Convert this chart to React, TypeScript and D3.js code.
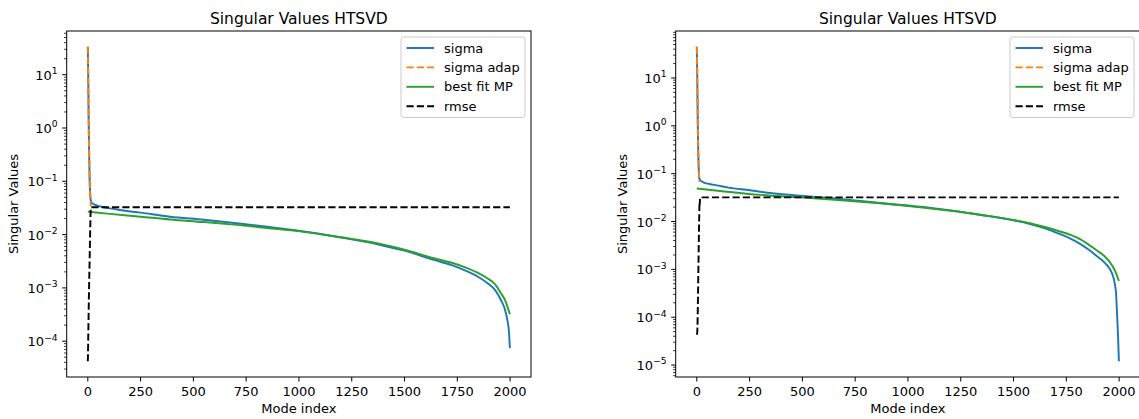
import React from 'react';
import * as d3 from 'd3';

// ---------- data ----------
const xTicks = [0, 250, 500, 750, 1000, 1250, 1500, 1750, 2000];
const leftYExp = [-4, -3, -2, -1, 0, 1];
const rightYExp = [-5, -4, -3, -2, -1, 0, 1];
const legendLabels = ['sigma', 'sigma adap', 'best fit MP', 'rmse'];
const titleText = 'Singular Values HTSVD';
const xLabelText = 'Mode index';
const yLabelText = 'Singular Values';

// left panel
const lSigmaIdx = [0,1,2,3,4,5,6,7,8,9,10,11,12,13,16,20,30,45,70,104,150,250,389,550,706,850,1006,1200,1386,1500,1639,1720,1797,1850,1892,1930,1956,1975,1987,1994,1999];
const lSigmaVal = [33.5,18,9,4,1.6,0.8,0.4,0.25,0.15,0.1,0.075,0.06,0.052,0.046,0.042,0.039,0.037,0.035,0.033,0.031,0.029,0.0258,0.0217,0.019,0.0163,0.014,0.0117,0.0088,0.0064,0.005,0.00335,0.0027,0.00204,0.0016,0.00123,0.0009,0.0006,0.0004,0.00025,0.00016,0.000074];
const lAdapIdx = [0,1,2,3,4,5,6,7,8,9,10,11,12,13,14];
const lAdapVal = [33.5,18,9,4,1.6,0.8,0.4,0.25,0.15,0.1,0.075,0.06,0.048,0.04,0.034];
const lFitIdx = [0,104,250,389,550,706,850,1006,1200,1386,1500,1639,1720,1797,1850,1892,1930,1956,1975,1987,1995,1999];
const lFitVal = [0.027,0.0245,0.0217,0.0192,0.0172,0.0152,0.0133,0.0115,0.0089,0.0067,0.0052,0.0036,0.003,0.00235,0.0019,0.00152,0.00115,0.0008,0.0006,0.00045,0.00036,0.00032];
const lRmseIdx = [0,1,2,3,4,5,6,7,8,9,10,11,12,13,14,15,1999];
const lRmseVal = [4.2e-5,6e-5,1.1e-4,2e-4,3.5e-4,6e-4,1e-3,1.6e-3,2.5e-3,4e-3,6.5e-3,1.05e-2,1.6e-2,2.4e-2,3.1e-2,3.26e-2,3.26e-2];

// right panel
const rSigmaIdx = [0,1,2,3,4,5,6,7,8,9,10,11,12,16,31,60,95,150,252,300,489,700,868,1100,1341,1578,1650,1705,1760,1815,1860,1894,1930,1957,1972,1981,1985,1990,1995,1999];
const rSigmaVal = [45,25,12,5,2,0.9,0.45,0.28,0.18,0.13,0.1,0.088,0.08,0.073,0.066,0.061,0.057,0.051,0.045,0.042,0.0346,0.029,0.0244,0.0195,0.0139,0.0089,0.0072,0.0058,0.0046,0.0034,0.0025,0.0019,0.0014,0.001,0.0007,0.00046,0.00034,0.000126,0.00004,0.000012];
const rAdapIdx = [0,1,2,3,4,5,6,7,8,9,10,11,12];
const rAdapVal = [45,25,12,5,2,0.9,0.45,0.28,0.18,0.13,0.1,0.085,0.068];
const rFitIdx = [0,100,300,489,700,868,1100,1341,1578,1705,1815,1894,1930,1957,1981,1999];
const rFitVal = [0.049,0.044,0.036,0.032,0.0275,0.024,0.019,0.0139,0.0092,0.0065,0.0043,0.0025,0.0019,0.0014,0.00093,0.00057];
const rRmseIdx = [1,3,4,5,6,7,8,9,10,11,12,13,14,15,16,1999];
const rRmseVal = [4.3e-5,6e-5,1e-4,1.8e-4,3.5e-4,7e-4,1.4e-3,2.8e-3,5.5e-3,1e-2,1.7e-2,2.5e-2,2.2e-2,2.9e-2,3.2e-2,3.2e-2];

// ---------- styling ----------
const W = 1139;
const H = 419;
const FONT = '"DejaVu Sans", sans-serif';
const FS = 13;
const TITLE_FS = 15.5;
const LW = 1.94;
const DASH = '7.2,3.1';
const COLORS = ['#1f77b4', '#ff7f0e', '#2ca02c', '#000000'];
const DASHES = [null, DASH, null, DASH];

type Series = { idx: number[]; val: number[] };

function supText(e: number) {
  return e < 0 ? '\u2212' + Math.abs(e) : String(e);
}

function Panel(props: {
  x0: number; x1: number; y0: number; y1: number;
  series: Series[]; yExp: number[];
}) {
  const { x0, x1, y0, y1, series, yExp } = props;
  const allIdx = series.flatMap((s) => s.idx);
  const allVal = series.flatMap((s) => s.val);
  const [xmin, xmax] = d3.extent(allIdx) as [number, number];
  const xm = (xmax - xmin) * 0.05;
  const x = d3.scaleLinear().domain([xmin - xm, xmax + xm]).range([x0, x1]);
  const lmin = Math.log10(d3.min(allVal)!);
  const lmax = Math.log10(d3.max(allVal)!);
  const lm = (lmax - lmin) * 0.05;
  const y = d3.scaleLog().domain([Math.pow(10, lmin - lm), Math.pow(10, lmax + lm)]).range([y1, y0]);

  const line = d3.line<[number, number]>()
    .x((d) => x(d[0]))
    .y((d) => y(d[1]))
    .curve(d3.curveMonotoneX);

  const minor: number[] = [];
  const [dlo, dhi] = y.domain();
  for (let k = Math.floor(Math.log10(dlo)); k <= Math.ceil(Math.log10(dhi)); k++) {
    for (let m = 2; m <= 9; m++) {
      const v = m * Math.pow(10, k);
      if (v >= dlo && v <= dhi) minor.push(v);
    }
  }

  const cx = (x0 + x1) / 2;
  const cy = (y0 + y1) / 2;
  const TL = 4.5;
  const PAD = 4.5;

  // legend
  const legW = 124;
  const legRight = x1 - 6;
  const legLeft = legRight - legW;
  const legTop = 37;
  const rowH = 19.4;

  return (
    <g>
      {series.map((s, i) => (
        <path
          key={i}
          d={line(s.idx.map((v, j) => [v, s.val[j]] as [number, number])) || ''}
          fill="none"
          stroke={COLORS[i]}
          strokeWidth={LW}
          strokeDasharray={DASHES[i] || undefined}
        />
      ))}
      {/* spines */}
      <rect x={x0} y={y0} width={x1 - x0} height={y1 - y0} fill="none" stroke="#000" strokeWidth={1} />
      {/* x ticks */}
      {xTicks.map((t) => (
        <g key={'x' + t}>
          <line x1={x(t)} x2={x(t)} y1={y1} y2={y1 + TL} stroke="#000" strokeWidth={1} />
          <text x={x(t)} y={y1 + TL + PAD + 9.6} textAnchor="middle" fontSize={FS} fontFamily={FONT} fill="#000">
            {t}
          </text>
        </g>
      ))}
      {/* y minor ticks */}
      {minor.map((v, i) => (
        <line key={'m' + i} x1={x0 - 2.6} x2={x0} y1={y(v)} y2={y(v)} stroke="#000" strokeWidth={0.8} />
      ))}
      {/* y major ticks */}
      {yExp.map((e) => {
        const yy = y(Math.pow(10, e));
        return (
          <g key={'y' + e}>
            <line x1={x0 - TL} x2={x0} y1={yy} y2={yy} stroke="#000" strokeWidth={1} />
            <text x={x0 - TL - PAD} y={yy + 5} textAnchor="end" fontSize={FS} fontFamily={FONT} fill="#000">
              <tspan>10</tspan>
              <tspan dy={-5.6} fontSize={9.2}>{supText(e)}</tspan>
            </text>
          </g>
        );
      })}
      {/* title */}
      <text x={cx} y={y0 - 7.5} textAnchor="middle" fontSize={TITLE_FS} fontFamily={FONT} fill="#000">
        {titleText}
      </text>
      {/* axis labels */}
      <text x={cx} y={413} textAnchor="middle" fontSize={FS} fontFamily={FONT} fill="#000">
        {xLabelText}
      </text>
      <text
        transform={`translate(${x0 - 48.5},${cy}) rotate(-90)`}
        textAnchor="middle"
        fontSize={FS}
        fontFamily={FONT}
        fill="#000"
      >
        {yLabelText}
      </text>
      {/* legend */}
      <rect x={legLeft} y={legTop} width={legW} height={80.5} rx={3} ry={3}
        fill="#ffffff" fillOpacity={0.8} stroke="#cccccc" strokeWidth={1} />
      {legendLabels.map((lab, i) => {
        const ry = legTop + 11 + i * rowH;
        return (
          <g key={lab}>
            <line x1={legLeft + 5.5} x2={legLeft + 33} y1={ry} y2={ry}
              stroke={COLORS[i]} strokeWidth={LW} strokeDasharray={DASHES[i] || undefined} />
            <text x={legLeft + 43} y={ry + 4.6} fontSize={FS} fontFamily={FONT} fill="#000">
              {lab}
            </text>
          </g>
        );
      })}
    </g>
  );
}

export default function App() {
  const leftSeries: Series[] = [
    { idx: lSigmaIdx, val: lSigmaVal },
    { idx: lAdapIdx, val: lAdapVal },
    { idx: lFitIdx, val: lFitVal },
    { idx: lRmseIdx, val: lRmseVal },
  ];
  const rightSeries: Series[] = [
    { idx: rSigmaIdx, val: rSigmaVal },
    { idx: rAdapIdx, val: rAdapVal },
    { idx: rFitIdx, val: rFitVal },
    { idx: rRmseIdx, val: rRmseVal },
  ];
  return (
    <svg
      width={W}
      height={H}
      viewBox={`0 0 ${W} ${H}`}
      style={{ position: 'absolute', left: 0, top: 0, background: '#fff' }}
    >
      <rect x={0} y={0} width={W} height={H} fill="#fff" />
      <Panel x0={66.7} x1={531} y0={31} y1={377} series={leftSeries} yExp={leftYExp} />
      <Panel x0={675.7} x1={1140} y0={31} y1={377} series={rightSeries} yExp={rightYExp} />
    </svg>
  );
}
